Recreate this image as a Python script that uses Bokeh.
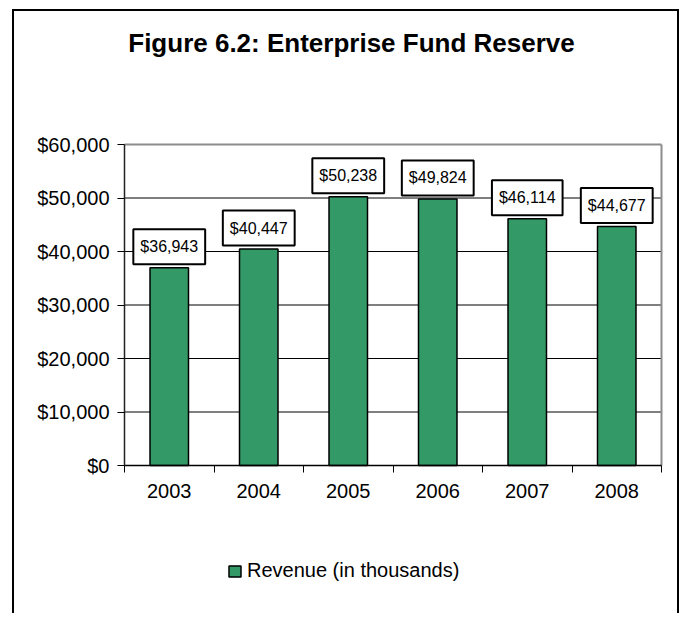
from bokeh.plotting import figure
from bokeh.models import (Range1d, FixedTicker, NumeralTickFormatter, ColumnDataSource,
                          Label, Legend, LegendItem)
from bokeh.core.properties import value
from bokeh.embed import file_html
from bokeh.resources import INLINE

# ---- data ----
years = ["2003", "2004", "2005", "2006", "2007", "2008"]
revenue = [36943, 40447, 50238, 49824, 46114, 44677]
y_ticks = [0, 10000, 20000, 30000, 40000, 50000, 60000]
title_text = "Figure 6.2: Enterprise Fund Reserve"
series_name = "Revenue (in thousands)"

FONT = "Liberation Sans"
GREEN = "#339966"
FS = "20px"

# ---- layout (canvas pixels) ----
W, H = 667, 604
PL, PR, PT, PB = 110, 647, 133, 454      # plot area inside the canvas
n = len(years)
ymax = y_ticks[-1]
xs = n / (PR - PL)
ys = ymax / (PB - PT)
x_range = Range1d(-PL * xs, n + (W - PR) * xs)
y_range = Range1d(-(H - PB) * ys, ymax + PT * ys)

x_pos = [i + 0.5 for i in range(n)]
bounds = [i for i in range(n + 1)]
labels = [f"${v:,}" for v in revenue]
src = ColumnDataSource(dict(x=x_pos, top=revenue, label=labels))

p = figure(width=W, height=H, output_backend="svg", toolbar_location=None,
           x_range=x_range, y_range=y_range, title=None,
           min_border_left=0, min_border_right=0, min_border_top=0, min_border_bottom=0)
p.styles = {"border-left": "2px solid black", "border-top": "2px solid black",
            "border-right": "2px solid black", "margin-left": "12px", "margin-top": "9px"}
p.background_fill_color = "white"
p.border_fill_color = "white"
p.outline_line_color = None
p.xgrid.visible = False
p.ygrid.visible = False

# horizontal grid lines across the plot area
grid_y = y_ticks[1:-1]
p.segment(x0=[0] * len(grid_y), x1=[n] * len(grid_y), y0=grid_y, y1=grid_y,
          line_color="black", line_width=1)
# plot-area border (top and right), grey
p.segment(x0=[0, n], y0=[ymax, 0], x1=[n, n], y1=[ymax, ymax],
          line_color="#8c8c8c", line_width=2)

r = p.vbar(x="x", top="top", width=0.43, source=src, fill_color=GREEN,
           line_color="black", line_width=1.5)

# x axis: labels at centers, tick marks at category boundaries
xa = p.xaxis[0]
xa.fixed_location = 0
xa.bounds = (0, n)
xa.ticker = FixedTicker(ticks=x_pos, minor_ticks=bounds)
xa.major_label_overrides = {x: y for x, y in zip(x_pos, years)}
xa.major_tick_line_color = None
xa.major_tick_out = 7
xa.major_tick_in = 0
xa.minor_tick_line_color = "black"
xa.minor_tick_out = 7
xa.minor_tick_in = 0
xa.axis_line_color = "black"
xa.axis_line_width = 1.5
xa.major_label_standoff = 11
xa.major_label_text_font = FONT
xa.major_label_text_font_size = FS
xa.major_label_text_color = "black"

ya = p.yaxis[0]
ya.fixed_location = 0
ya.bounds = (0, ymax)
ya.ticker = FixedTicker(ticks=y_ticks, minor_ticks=[])
ya.formatter = NumeralTickFormatter(format="$0,0")
ya.major_tick_out = 7
ya.major_tick_in = 0
ya.major_tick_line_color = "black"
ya.minor_tick_line_color = None
ya.axis_line_color = "#222222"
ya.axis_line_width = 1.5
ya.major_label_standoff = 8
ya.major_label_text_font = FONT
ya.major_label_text_font_size = FS
ya.major_label_text_color = "black"

# data labels in boxes
p.text(x="x", y="top", text="label", source=src, y_offset=-21,
       text_align="center", text_baseline="middle",
       text_font=value(FONT), text_font_size="16px", text_color="black",
       background_fill_color="white", border_line_color="black",
       border_line_width=2,
       padding=dict(left=7, right=7, top=9, bottom=9))

# title
p.add_layout(Label(x=x_range.start + 337 * xs, y=y_range.end - 31.7 * ys,
                   text=title_text, text_align="center", text_baseline="alphabetic",
                   text_font=FONT, text_font_size="26px", text_font_style="bold",
                   text_color="black"))

legend = Legend(items=[LegendItem(label=series_name, renderers=[r])],
                location=(213, 33), orientation="horizontal",
                padding=0, margin=0, border_line_color=None,
                background_fill_alpha=0, glyph_width=15, glyph_height=14,
                label_standoff=5, label_text_font=FONT, label_text_font_size=FS,
                label_height=14, label_text_color="black")
p.add_layout(legend, "center")

open("out.html", "w").write(file_html(p, INLINE))
